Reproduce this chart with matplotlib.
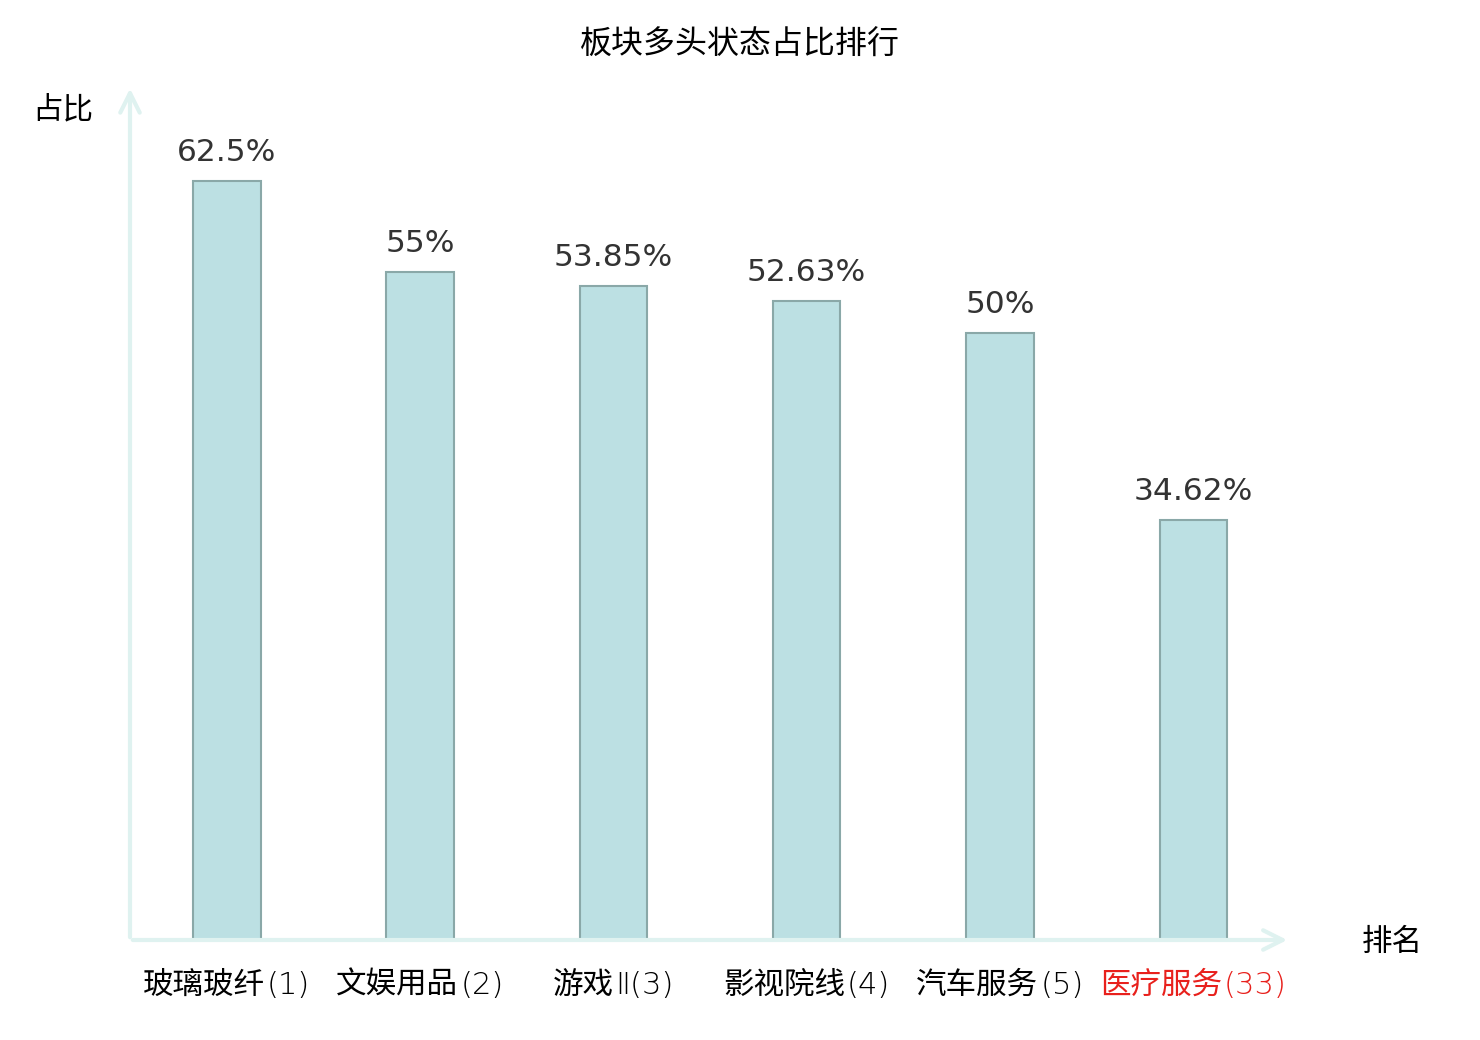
import matplotlib
matplotlib.use("Agg")
import matplotlib.pyplot as plt
from matplotlib.transforms import IdentityTransform

plt.rcParams['font.family'] = ['Noto Sans CJK SC', 'DejaVu Sans']

# data
sectors = ['玻璃玻纤', '文娱用品', '游戏Ⅱ', '影视院线', '汽车服务', '医疗服务']
ranks = [1, 2, 3, 4, 5, 33]
ratios = [62.5, 55, 53.85, 52.63, 50, 34.62]
value_labels = ['62.5%', '55%', '53.85%', '52.63%', '50%', '34.62%']

axis_color = '#dff2f0'
bar_color = '#bce0e3'
bar_edge = '#8aa8a8'


def split_name(name):
    # CJK head goes in the CJK font, any latin/roman tail goes with the rank
    i = len(name)
    while i > 0 and ord(name[i - 1]) < 0x3000:
        i -= 1
    return name[:i], name[i:]


def make_plot():
    fig = plt.figure(figsize=(14.8, 10.4), dpi=100)
    ax = fig.add_axes([130 / 1480, 100 / 1040, 1160 / 1480, 850 / 1040])

    x = list(range(len(sectors)))
    ax.bar(x, ratios, width=0.35, color=bar_color, edgecolor=bar_edge, linewidth=1.5)

    for xi, v, lab in zip(x, ratios, value_labels):
        ax.annotate(lab, (xi, v), xytext=(0, 10), textcoords='offset points',
                    ha='center', va='bottom', fontsize=22.5, color='#333333',
                    family='DejaVu Sans')

    ax.set_xlim(-0.5, 5.5)
    ax.set_ylim(0, 70)
    for s in ax.spines.values():
        s.set_visible(False)
    ax.set_yticks([])
    ax.set_xticks([])

    arrow = dict(arrowstyle='->', color=axis_color, lw=3, mutation_scale=35)
    ax.annotate('', xy=(1.0, 0), xytext=(0, 0), xycoords='axes fraction', arrowprops=arrow)
    ax.annotate('', xy=(0, 1.005), xytext=(0, 0), xycoords='axes fraction', arrowprops=arrow)

    # category labels: name in CJK font, rank in a thinner font, centred under each bar
    fig.canvas.draw()
    renderer = fig.canvas.get_renderer()
    gap = 2
    for i, (xi, name, r) in enumerate(zip(x, sectors, ranks)):
        col = '#e8201c' if i == len(sectors) - 1 else 'black'
        head, tail = split_name(name)
        t1 = fig.text(0, 0, head, transform=IdentityTransform(), fontsize=22,
                      ha='left', va='baseline', color=col)
        t2 = fig.text(0, 0, f'{tail}({r})', transform=IdentityTransform(), fontsize=22,
                      ha='left', va='baseline', color=col,
                      family=['DejaVu Sans'], fontweight='light')
        w1 = t1.get_window_extent(renderer).width
        w2 = t2.get_window_extent(renderer).width
        cx = ax.transData.transform((xi, 0))[0]
        left = cx - (w1 + w2 + gap) / 2
        base = 1040 - 994
        t1.set_position((left, base))
        t2.set_position((left + w1 + gap, base))

    fig.text(63 / 1480, 1 - 110 / 1040, '占比', ha='center', va='center', fontsize=22)
    fig.text(1392 / 1480, 1 - 942 / 1040, '排名', ha='center', va='center', fontsize=22)
    fig.text(740 / 1480, 1 - 45 / 1040, '板块多头状态占比排行', ha='center', va='center', fontsize=23)

    fig.savefig('out.png', dpi=100)


if __name__ == "__main__":
    make_plot()
